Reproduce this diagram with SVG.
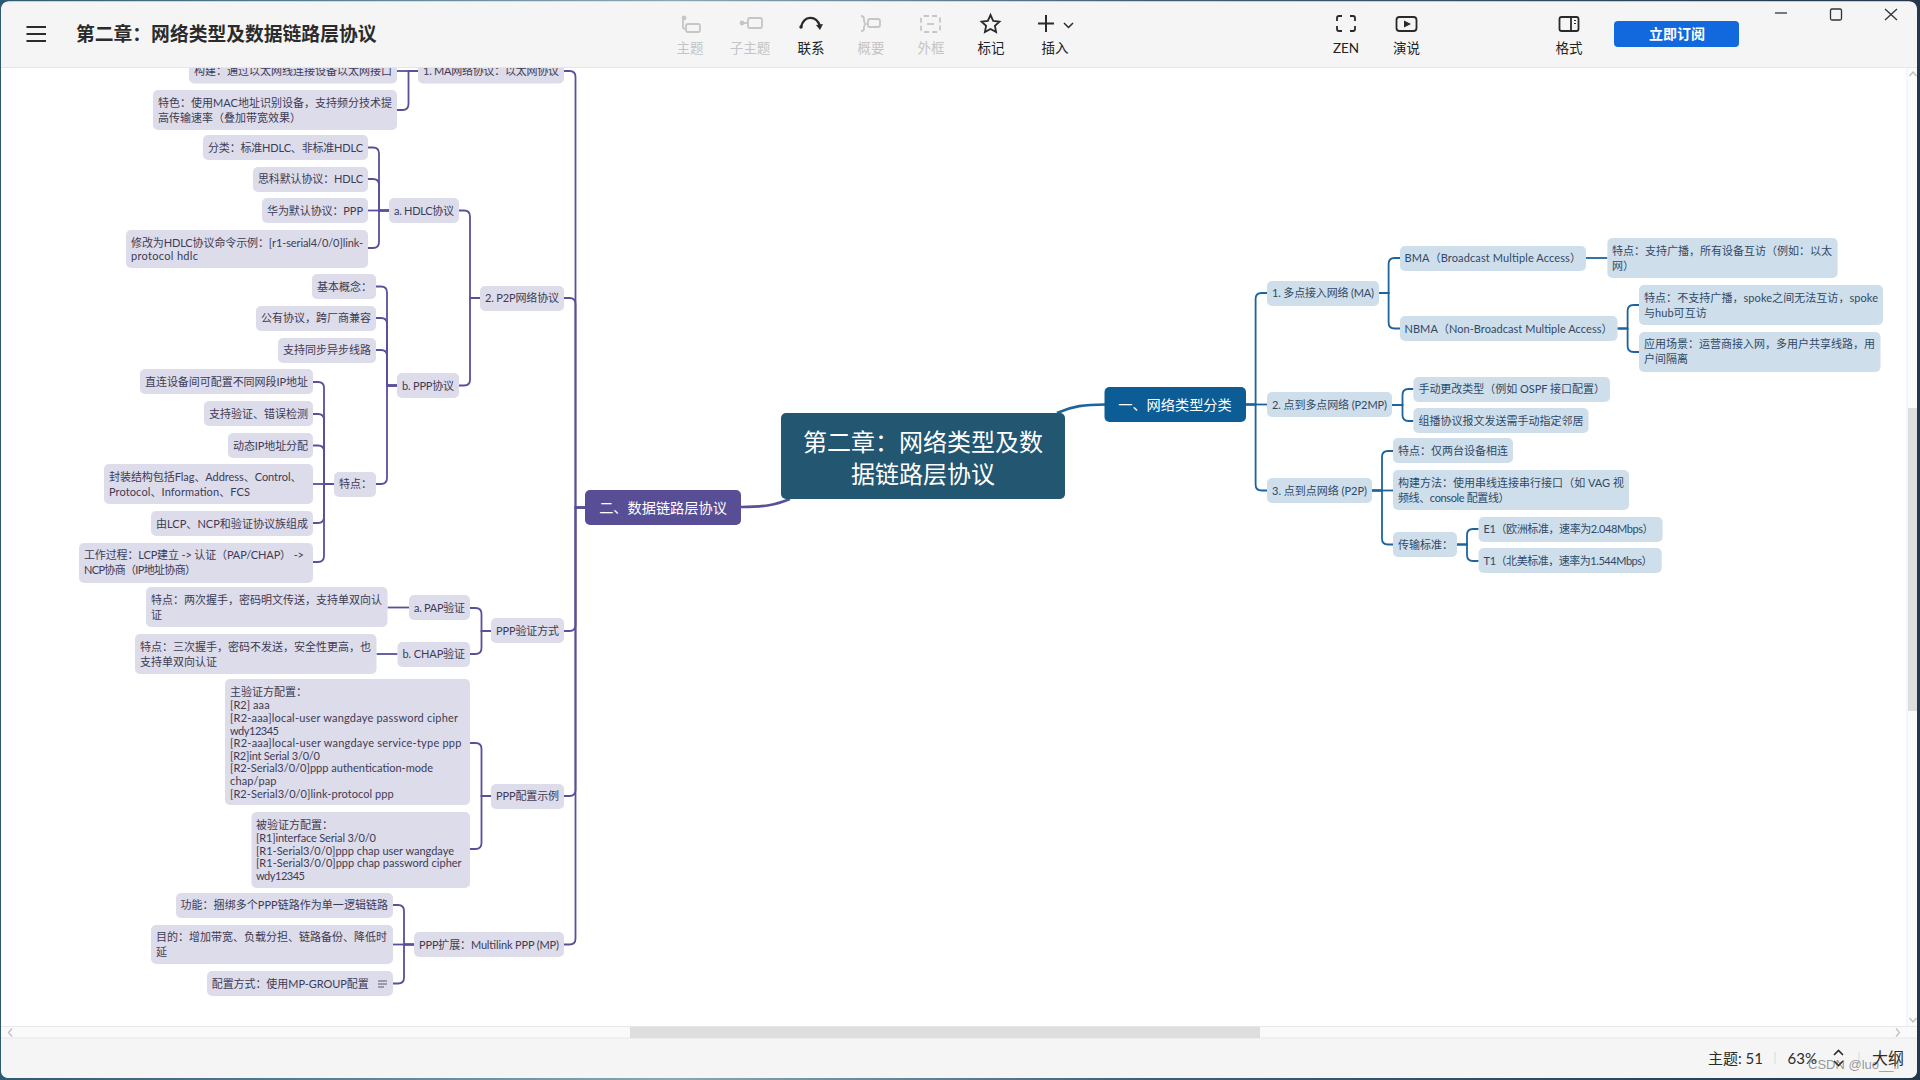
<svg xmlns="http://www.w3.org/2000/svg" width="1920" height="1080" viewBox="0 0 1920 1080">
<style>
text{font-family:"Lato","Noto Sans CJK SC",sans-serif;font-size:11px}
.l rect{fill:#dddcea}.l text{fill:#3d3b55}
.r rect{fill:#cfdeeb}.r text{fill:#2f4a66}
.cl{fill:none;stroke:#5a5098;stroke-width:1.8}
.cr{fill:none;stroke:#1d649c;stroke-width:1.8}
.ui{font-size:13.5px;fill:#222;text-anchor:middle}
.dim{font-size:13.5px;fill:#c4c4c4;text-anchor:middle}
.ik{fill:none;stroke:#2a2a2a;stroke-width:1.8}
.ig{fill:none;stroke:#c6c6c6;stroke-width:1.8}
.sb{fill:none;stroke:#bdbdbd;stroke-width:1.2}
</style>
<defs><linearGradient id="desk" x1="0" x2="1" y1="0" y2="0"><stop offset="0" stop-color="#2d5a72"/><stop offset=".35" stop-color="#86a9b3"/><stop offset=".6" stop-color="#3d5f74"/><stop offset="1" stop-color="#24384c"/></linearGradient></defs>
<rect width="1920" height="1080" fill="url(#desk)"/>
<rect x="1" y="1.5" width="1916" height="1076.5" rx="8" fill="#fff"/>

<g id="connectors">
<g class="cl">
<path class="cl" style="stroke-width:2.6" d="M741 507C765 507 775 505 790 499"/>
<path class="cl" d="M585 507.5H575.5V77Q575.5 71 569.5 71H564"/>
<path class="cl" d="M585 507.5H575.5V304Q575.5 298 569.5 298H564"/>
<path class="cl" d="M585 507.5H575.5V625Q575.5 631 569.5 631H564"/>
<path class="cl" d="M585 507.5H575.5V790Q575.5 796 569.5 796H564"/>
<path class="cl" d="M585 507.5H575.5V938.5Q575.5 944.5 569.5 944.5H564"/>
<path class="cl" d="M418 71H397"/>
<path class="cl" d="M418 71H408.5V104Q408.5 110 402.5 110H397"/>
<path class="cl" d="M480 298H470V216.5Q470 210.5 464 210.5H459"/>
<path class="cl" d="M480 298H470V379.5Q470 385.5 464 385.5H459"/>
<path class="cl" d="M389 210.5H379V153.5Q379 147.5 373 147.5H368"/>
<path class="cl" d="M389 210.5H379V185Q379 179 373 179H368"/>
<path class="cl" d="M389 210.5H368"/>
<path class="cl" d="M389 210.5H379V242Q379 248 373 248H368"/>
<path class="cl" d="M397 385.5H387V292.5Q387 286.5 381 286.5H376"/>
<path class="cl" d="M397 385.5H387V324Q387 318 381 318H376"/>
<path class="cl" d="M397 385.5H387V356Q387 350 381 350H376"/>
<path class="cl" d="M397 385.5H387V478Q387 484 381 484H376"/>
<path class="cl" d="M334 484H324V388Q324 382 318 382H313"/>
<path class="cl" d="M334 484H324V420Q324 414 318 414H313"/>
<path class="cl" d="M334 484H324V451.5Q324 445.5 318 445.5H313"/>
<path class="cl" d="M334 484H313"/>
<path class="cl" d="M334 484H324V517Q324 523 318 523H313"/>
<path class="cl" d="M334 484H324V556Q324 562 318 562H313"/>
<path class="cl" d="M491 631H481.5V614Q481.5 608 475.5 608H470"/>
<path class="cl" d="M491 631H481.5V648Q481.5 654 475.5 654H470"/>
<path class="cl" d="M409 607.5H387.5"/>
<path class="cl" d="M397.5 654H376.5"/>
<path class="cl" d="M491 796H481.5V749Q481.5 743 475.5 743H470"/>
<path class="cl" d="M491 796H481.5V843Q481.5 849 475.5 849H470"/>
<path class="cl" d="M414 944.5H404V911Q404 905 398 905H393"/>
<path class="cl" d="M414 944.5H393"/>
<path class="cl" d="M414 944.5H404V977.5Q404 983.5 398 983.5H393"/>
</g>
<path class="cr" style="stroke-width:2.6" d="M1057 413C1072 406 1085 404.5 1105 404.5"/>
<path class="cr" d="M1246 404.5H1255.6V299Q1255.6 293 1261.6 293H1267"/>
<path class="cr" d="M1246 404.5H1267"/>
<path class="cr" d="M1246 404.5H1255.6V484.5Q1255.6 490.5 1261.6 490.5H1267"/>
<path class="cr" d="M1379 293H1388.6V264Q1388.6 258 1394.6 258H1400"/>
<path class="cr" d="M1379 293H1388.6V322.5Q1388.6 328.5 1394.6 328.5H1400"/>
<path class="cr" d="M1586 258H1607.4"/>
<path class="cr" d="M1617.5 328.5H1627.6V311Q1627.6 305 1633.6 305H1639"/>
<path class="cr" d="M1617.5 328.5H1627.6V346Q1627.6 352 1633.6 352H1639"/>
<path class="cr" d="M1392 405H1402.5V395Q1402.5 389 1408.5 389H1413.4"/>
<path class="cr" d="M1392 405H1402.5V415Q1402.5 421 1408.5 421H1413.4"/>
<path class="cr" d="M1372 490.5H1382V457Q1382 451 1388 451H1393"/>
<path class="cr" d="M1372 490.5H1393"/>
<path class="cr" d="M1372 490.5H1382V538.5Q1382 544.5 1388 544.5H1393"/>
<path class="cr" d="M1457 544.5H1467V535Q1467 529 1473 529H1478.6"/>
<path class="cr" d="M1457 544.5H1467V555Q1467 561 1473 561H1478.6"/>
</g>

<g id="central"><rect x="781" y="413" width="284" height="86" rx="5" fill="#235670"/>
<text x="923" y="451" text-anchor="middle" fill="#fff" style="font-size:24px">第二章：网络类型及数</text>
<text x="923" y="483" text-anchor="middle" fill="#fff" style="font-size:24px">据链路层协议</text></g>
<g id="topic-net"><rect x="1104.5" y="387" width="141.5" height="35" rx="5" fill="#0c5c96"/><text x="1175" y="409.5" text-anchor="middle" fill="#fff" style="font-size:14.2px">一、网络类型分类</text></g>
<g id="topic-dl"><rect x="585" y="490" width="156" height="35" rx="5" fill="#584e96"/><text x="663" y="512.5" text-anchor="middle" fill="#fff" style="font-size:14.2px">二、数据链路层协议</text></g>

<g id="left-nodes" class="l">
<g id="n-ma"><rect x="418" y="58.5" width="146" height="25" rx="5"/><text x="423" y="75" textLength="136">1. MA网络协议：以太网协议</text></g>
<g id="n-ma1"><rect x="189" y="58.5" width="208" height="25" rx="5"/><text x="194" y="75">构建：通过以太网线连接设备以太网接口</text></g>
<g id="n-ma2"><rect x="153" y="90" width="244" height="40" rx="5"/><text x="158" y="107" textLength="234">特色：使用MAC地址识别设备，支持频分技术提</text><text x="158" y="122">高传输速率（叠加带宽效果）</text></g>
<g id="n-p2p"><rect x="480" y="286" width="84" height="25" rx="5"/><text x="485" y="302" textLength="74">2. P2P网络协议</text></g>
<g id="n-hdlc"><rect x="389" y="198" width="70" height="25" rx="5"/><text x="394" y="214.5" textLength="60">a. HDLC协议</text></g>
<g id="n-h1"><rect x="203" y="135" width="165" height="25" rx="5"/><text x="208" y="151.5" textLength="155">分类：标准HDLC、非标准HDLC</text></g>
<g id="n-h2"><rect x="253" y="167" width="115" height="25" rx="5"/><text x="258" y="183" textLength="105">思科默认协议：HDLC</text></g>
<g id="n-h3"><rect x="262" y="198" width="106" height="25" rx="5"/><text x="267" y="214.5" textLength="96">华为默认协议：PPP</text></g>
<g id="n-h4"><rect x="126" y="230" width="242" height="38" rx="5"/><text x="131" y="247" textLength="232">修改为HDLC协议命令示例：[r1-serial4/0/0]link-</text><text x="131" y="260" textLength="67">protocol hdlc</text></g>
<g id="n-ppp"><rect x="397" y="373" width="62" height="25" rx="5"/><text x="402" y="389.5" textLength="52">b. PPP协议</text></g>
<g id="n-p1"><rect x="312" y="274" width="64" height="25" rx="5"/><text x="317" y="290.5">基本概念：</text></g>
<g id="n-p2"><rect x="256" y="306" width="120" height="25" rx="5"/><text x="261" y="322">公有协议，跨厂商兼容</text></g>
<g id="n-p3"><rect x="278" y="338" width="98" height="25" rx="5"/><text x="283" y="354">支持同步异步线路</text></g>
<g id="n-p4"><rect x="334" y="472" width="42" height="25" rx="5"/><text x="339" y="488">特点：</text></g>
<g id="n-f1"><rect x="140" y="369" width="173" height="25" rx="5"/><text x="145" y="386" textLength="163">直连设备间可配置不同网段IP地址</text></g>
<g id="n-f2"><rect x="204" y="401" width="109" height="25" rx="5"/><text x="209" y="418">支持验证、错误检测</text></g>
<g id="n-f3"><rect x="228" y="433" width="85" height="25" rx="5"/><text x="233" y="449.5" textLength="75">动态IP地址分配</text></g>
<g id="n-f4"><rect x="104" y="464" width="209" height="40" rx="5"/><text x="109" y="481" textLength="192.5">封装结构包括Flag、Address、Control、</text><text x="109" y="496" textLength="141">Protocol、Information、FCS</text></g>
<g id="n-f5"><rect x="151" y="511" width="162" height="25" rx="5"/><text x="156" y="527.5" textLength="152">由LCP、NCP和验证协议族组成</text></g>
<g id="n-f6"><rect x="79" y="543" width="234" height="40" rx="5"/><text x="84" y="559" textLength="220">工作过程：LCP建立 -&gt; 认证（PAP/CHAP） -&gt;</text><text x="84" y="574" textLength="112">NCP协商（IP地址协商）</text></g>
<g id="n-auth"><rect x="491" y="618" width="73" height="25" rx="5"/><text x="496" y="635" textLength="63">PPP验证方式</text></g>
<g id="n-pap"><rect x="409" y="595" width="61" height="25" rx="5"/><text x="414" y="612" textLength="51">a. PAP验证</text></g>
<g id="n-pap1"><rect x="146" y="587" width="241.5" height="40" rx="5"/><text x="151" y="604">特点：两次握手，密码明文传送，支持单双向认</text><text x="151" y="619">证</text></g>
<g id="n-chap"><rect x="397.5" y="642" width="72.5" height="25" rx="5"/><text x="402.5" y="658" textLength="62.5">b. CHAP验证</text></g>
<g id="n-chap1"><rect x="135" y="634" width="241.5" height="40" rx="5"/><text x="140" y="651">特点：三次握手，密码不发送，安全性更高，也</text><text x="140" y="666">支持单双向认证</text></g>
<g id="n-cfg"><rect x="491" y="784" width="73" height="25" rx="5"/><text x="496" y="800" textLength="63">PPP配置示例</text></g>
<g id="n-cfg1"><rect x="225" y="679" width="245" height="126" rx="5"/>
<text x="230" y="696">主验证方配置：</text>
<text x="230" y="709" textLength="39.6">[R2] aaa</text>
<text x="230" y="722" textLength="228">[R2-aaa]local-user wangdaye password cipher</text>
<text x="230" y="735" textLength="49">wdy12345</text>
<text x="230" y="747" textLength="231.4">[R2-aaa]local-user wangdaye service-type ppp</text>
<text x="230" y="760" textLength="90">[R2]int Serial 3/0/0</text>
<text x="230" y="772" textLength="203">[R2-Serial3/0/0]ppp authentication-mode</text>
<text x="230" y="785" textLength="46.5">chap/pap</text>
<text x="230" y="798" textLength="163.6">[R2-Serial3/0/0]link-protocol ppp</text></g>
<g id="n-cfg2"><rect x="251.5" y="812" width="218.5" height="76" rx="5"/>
<text x="256" y="829">被验证方配置：</text>
<text x="256" y="842" textLength="120">[R1]interface Serial 3/0/0</text>
<text x="256" y="855" textLength="198">[R1-Serial3/0/0]ppp chap user wangdaye</text>
<text x="256" y="867" textLength="205.6">[R1-Serial3/0/0]ppp chap password cipher</text>
<text x="256" y="880" textLength="49">wdy12345</text></g>
<g id="n-mp"><rect x="414" y="932" width="150" height="25" rx="5"/><text x="419" y="949" textLength="140">PPP扩展：Multilink PPP (MP)</text></g>
<g id="n-mp1"><rect x="176" y="893" width="217" height="25" rx="5"/><text x="180.5" y="909" textLength="207.5">功能：捆绑多个PPP链路作为单一逻辑链路</text></g>
<g id="n-mp2"><rect x="151" y="925" width="242" height="39" rx="5"/><text x="156" y="941">目的：增加带宽、负载分担、链路备份、降低时</text><text x="156" y="956">延</text></g>
<g id="n-mp3"><rect x="207" y="971" width="186" height="25" rx="5"/><text x="211.7" y="988" textLength="157">配置方式：使用MP-GROUP配置</text><path d="M378 981H387M378 984H387M378 987H384" fill="none" stroke="#5a5870" stroke-width="1"/></g>
</g>

<g id="right-nodes" class="r">
<g id="m1"><rect x="1267" y="281" width="112" height="25" rx="5"/><text x="1272" y="297" textLength="102">1. 多点接入网络 (MA)</text></g>
<g id="m11"><rect x="1400" y="246" width="186" height="25" rx="5"/><text x="1404.5" y="262" textLength="176.5">BMA（Broadcast Multiple Access）</text></g>
<g id="m111"><rect x="1607.4" y="238" width="230.2" height="40" rx="5"/><text x="1612" y="255">特点：支持广播，所有设备互访（例如：以太</text><text x="1612" y="270">网）</text></g>
<g id="m12"><rect x="1400" y="316" width="217.5" height="25" rx="5"/><text x="1404.5" y="332.5" textLength="208">NBMA（Non-Broadcast Multiple Access）</text></g>
<g id="m121"><rect x="1639" y="285" width="244" height="40" rx="5"/><text x="1644" y="302" textLength="234">特点：不支持广播，spoke之间无法互访，spoke</text><text x="1644" y="317" textLength="62.7">与hub可互访</text></g>
<g id="m122"><rect x="1639" y="332" width="241.5" height="40" rx="5"/><text x="1644" y="348">应用场景：运营商接入网，多用户共享线路，用</text><text x="1644" y="363">户间隔离</text></g>
<g id="m2"><rect x="1267" y="392" width="125" height="25" rx="5"/><text x="1272" y="409" textLength="115">2. 点到多点网络 (P2MP)</text></g>
<g id="m21"><rect x="1413.4" y="377" width="196.6" height="25" rx="5"/><text x="1418.4" y="393" textLength="186.6">手动更改类型（例如 OSPF 接口配置）</text></g>
<g id="m22"><rect x="1413.4" y="408" width="175.1" height="25" rx="5"/><text x="1418.4" y="425">组播协议报文发送需手动指定邻居</text></g>
<g id="m3"><rect x="1267" y="478" width="105" height="25" rx="5"/><text x="1272" y="494.5" textLength="95">3. 点到点网络 (P2P)</text></g>
<g id="m31"><rect x="1393" y="438" width="120" height="25" rx="5"/><text x="1398" y="455">特点：仅两台设备相连</text></g>
<g id="m32"><rect x="1393" y="470" width="236" height="40" rx="5"/><text x="1398" y="487" textLength="226">构建方法：使用串线连接串行接口（如 VAG 视</text><text x="1398" y="502" textLength="111.5">频线、console 配置线）</text></g>
<g id="m33"><rect x="1393" y="532" width="64" height="25" rx="5"/><text x="1398" y="548.5">传输标准：</text></g>
<g id="m331"><rect x="1478.6" y="517" width="184" height="25" rx="5"/><text x="1483.6" y="533" textLength="170">E1（欧洲标准，速率为2.048Mbps）</text></g>
<g id="m332"><rect x="1478.6" y="548" width="183.1" height="25" rx="5"/><text x="1483.6" y="565" textLength="169">T1（北美标准，速率为1.544Mbps）</text></g>
</g>

<g id="toolbar">
<path d="M1 68V10Q1 1.5 9 1.5H1909Q1917 1.5 1917 10V68Z" fill="#f5f5f5"/>
<path d="M1 67.5H1917" stroke="#e6e6e6" stroke-width="1"/>
<path d="M26.5 27H46M26.5 34H46M26.5 41H46" stroke="#2b2b2b" stroke-width="2.2" fill="none"/>
<text x="76" y="40.5" fill="#2b2b2b" font-weight="700" style="font-size:18.8px">第二章：网络类型及数据链路层协议</text>
<g class="ig"><circle cx="684" cy="18" r="1.5" fill="#c6c6c6"/><path d="M683 20V27Q683 29 686 29"/><rect x="686" y="24" width="14" height="8" rx="2"/></g>
<g class="ig"><circle cx="742" cy="23" r="1.5" fill="#c6c6c6"/><path d="M743 23H748"/><rect x="748" y="18" width="14" height="10" rx="2"/></g>
<path class="ik" d="M801 27C804 15 816 15 820 26" style="stroke-width:2.4"/><path d="M816 25L823 24L820 30Z" fill="#2a2a2a"/><circle cx="801" cy="27" r="1.7" fill="#2a2a2a"/>
<g class="ig"><path d="M861 16Q864 16 864 19V21Q864 23 866 24Q864 25 864 27V29Q864 31 861 31"/><rect x="868" y="19" width="12" height="8" rx="2"/></g>
<g class="ig"><rect x="921" y="16" width="19" height="16" rx="3" stroke-dasharray="5 3"/><path d="M927 24H934"/></g>
<path class="ik" d="M990.5 15L993.2 20.8L999.5 21.6L994.9 25.9L996.1 32L990.5 29L984.9 32L986.1 25.9L981.5 21.6L987.8 20.8Z"/>
<path d="M1046 15V32M1038 23.5H1054" stroke="#2a2a2a" stroke-width="2" fill="none"/>
<path d="M1064 23L1068.5 27.5L1073 23" class="ik" style="stroke-width:1.5"/>
<text class="dim" x="690" y="53">主题</text><text class="dim" x="750" y="53">子主题</text><text class="ui" x="811" y="53">联系</text><text class="dim" x="871" y="53">概要</text><text class="dim" x="931" y="53">外框</text><text class="ui" x="991" y="53">标记</text><text class="ui" x="1055" y="53">插入</text>
<path class="ik" d="M1337 21V18Q1337 16 1339 16H1342M1350 16H1353Q1355 16 1355 18V21M1355 26V29Q1355 31 1353 31H1350M1342 31H1339Q1337 31 1337 29V26"/>
<rect class="ik" x="1396.5" y="17" width="20" height="14" rx="3"/><path d="M1404 20.5L1411 24L1404 27.5Z" fill="#2a2a2a"/>
<rect class="ik" x="1559.5" y="17" width="19" height="14" rx="2"/><path class="ik" d="M1571 17V31"/><path d="M1574 20.5H1576M1574 23.5H1576" stroke="#2a2a2a" stroke-width="1.2"/>
<text class="ui" x="1346" y="53">ZEN</text><text class="ui" x="1406.5" y="53">演说</text><text class="ui" x="1569" y="53">格式</text>
<rect x="1614" y="21" width="125" height="26" rx="4" fill="#1268dd"/>
<text x="1677" y="39" text-anchor="middle" fill="#fff" font-weight="700" style="font-size:14px">立即订阅</text>
<path d="M1775 13H1787" stroke="#333" stroke-width="1.3"/>
<rect x="1830.5" y="9" width="11" height="11" rx="1.5" fill="none" stroke="#333" stroke-width="1.3"/>
<path d="M1885 9L1897 20M1897 9L1885 20" stroke="#333" stroke-width="1.3"/>
</g>

<g id="scrollbars">
<rect x="1907" y="68" width="10" height="958" fill="#fbfbfb"/>
<path d="M1907 68V1026" stroke="#efefef"/>
<rect x="1908" y="408" width="9" height="303" fill="#dedede"/>
<path class="sb" d="M1909.5 76L1913 72L1916.5 76M1909.5 1018L1913 1022L1916.5 1018"/>
<path d="M1 1038V1070Q1 1078 9 1078H1909Q1917 1078 1917 1070V1038Z" fill="#f5f5f5"/>
<rect x="1" y="1027" width="1916" height="11" fill="#fafafa"/>
<path d="M1 1026.5H1917M1 1038H1917" stroke="#e8e8e8"/>
<rect x="630" y="1027" width="630" height="11" fill="#dedede"/>
<path class="sb" d="M12 1028.5L8.5 1032.5L12 1036.500M1896 1028.5L1899.5 1032.5L1896 1036.5"/>
</g>

<g id="status">
<text x="1708" y="1064" fill="#2b2b2b" style="font-size:15px">主题: 51</text>
<path d="M1775 1052V1064M1859 1052V1064" stroke="#d8d8d8"/>
<text x="1787.5" y="1064" fill="#2b2b2b" style="font-size:15px">63%</text>
<path d="M1834 1055L1838.5 1050.5L1843 1055M1834 1061L1838.5 1065.5L1843 1061" fill="none" stroke="#2b2b2b" stroke-width="1.6"/>
<text x="1872" y="1064" fill="#2b2b2b" style="font-size:16px">大纲</text>
<text x="1808" y="1069" fill="#555" fill-opacity=".6" style="font-size:13px;font-family:'Liberation Sans',sans-serif">CSDN @luo__ll</text>
</g>
</svg>
